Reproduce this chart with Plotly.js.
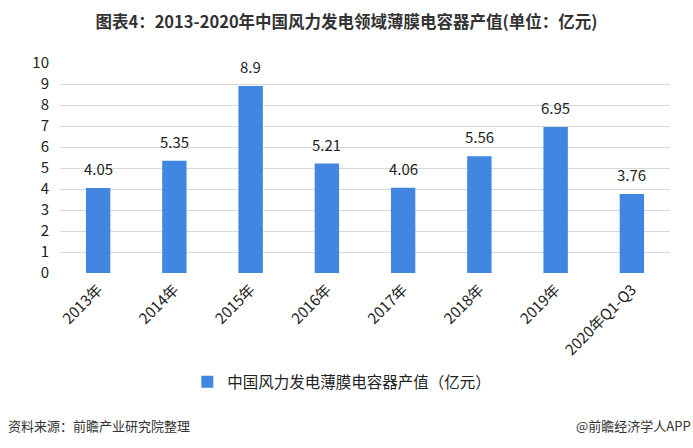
<!DOCTYPE html>
<html>
<head>
<meta charset="utf-8">
<script src="https://cdn.plot.ly/plotly-3.0.1.min.js"></script>
<style>html,body{margin:0;padding:0;background:#fff;}#chart{width:693px;height:448px;}</style>
</head>
<body>
<div id="chart"></div>
<script>
const categories = ["2013年","2014年","2015年","2016年","2017年","2018年","2019年","2020年Q1-Q3"];
const values = [4.05, 5.35, 8.9, 5.21, 4.06, 5.56, 6.95, 3.76];
const valueLabels = ["4.05","5.35","8.9","5.21","4.06","5.56","6.95","3.76"];
const seriesName = "中国风力发电薄膜电容器产值（亿元）";
const yTicks = [0,1,2,3,4,5,6,7,8,9,10];

const font = "'Noto Sans CJK SC', 'Noto Sans', sans-serif";
const trace = {
  type: 'bar',
  x: categories,
  y: values,
  name: seriesName,
  marker: {color: '#4186E0'},
  hoverinfo: 'none'
};
const labelAnnotations = categories.map((c, i) => ({
  x: c, y: values[i], xref: 'x', yref: 'y', text: valueLabels[i],
  showarrow: false, yanchor: 'bottom', yshift: 7,
  font: {family: font, size: 15, color: '#222'}
}));
const layout = {
  width: 693, height: 448,
  margin: {l: 60, r: 23, t: 63, b: 175},
  paper_bgcolor: '#fff', plot_bgcolor: '#fff',
  bargap: 0.68,
  showlegend: true,
  title: {text: '<b>图表4：2013-2020年中国风力发电领域薄膜电容器产值(单位：亿元)</b>', x: 0.5, xanchor: 'center', y: 0.95, yanchor: 'middle', font: {family: font, size: 16.5, color: '#333'}},
  font: {family: font, color: '#222'},
  xaxis: {type: 'category', tickangle: -45, tickfont: {family: font, size: 15, color: '#222'}, showgrid: false, zeroline: false, showline: false, ticks: '', ticklabelstandoff: 4},
  yaxis: {range: [0, 10], tickvals: yTicks, ticktext: yTicks.map(String), tickfont: {family: font, size: 15, color: '#222'}, showgrid: true, gridcolor: '#d9d9d9', gridwidth: 1, zeroline: false, showline: false, ticks: '', ticklabelstandoff: 10},
  legend: {orientation: 'h', x: 0.462, xanchor: 'center', y: -0.52, yanchor: 'middle', itemwidth: 30, font: {family: font, size: 15.5, color: '#222'}},
  annotations: labelAnnotations.concat([
    {text: '资料来源：前瞻产业研究院整理', xref: 'paper', yref: 'paper', x: -0.088, y: -0.725, xanchor: 'left', yanchor: 'middle', showarrow: false, font: {family: font, size: 13, color: '#333'}},
    {text: '@前瞻经济学人APP', xref: 'paper', yref: 'paper', x: 1.038, y: -0.725, xanchor: 'right', yanchor: 'middle', showarrow: false, font: {family: font, size: 13, color: '#333'}}
  ])
};
Plotly.newPlot('chart', [trace], layout, {displayModeBar: false, staticPlot: true});
</script>
</body>
</html>
